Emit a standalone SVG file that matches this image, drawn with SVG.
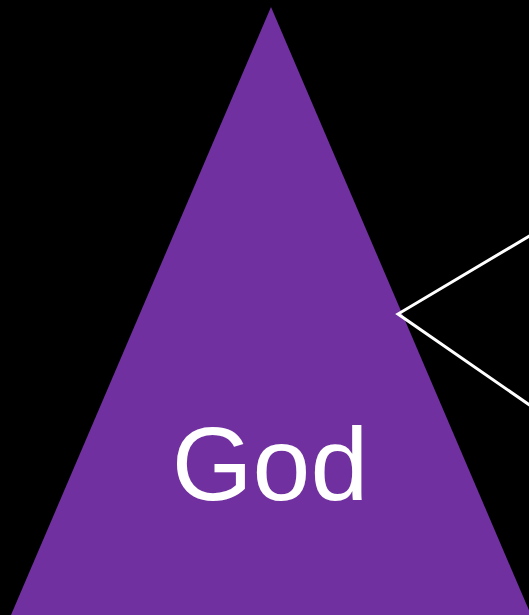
<svg xmlns="http://www.w3.org/2000/svg" width="529" height="615" viewBox="0 0 529 615">
<style>
.tri{fill:#7030A0}
.lbl{font-family:"Liberation Sans",Arial,sans-serif;font-size:104px;fill:#FFFFFF;text-anchor:middle}
.conn{fill:none;stroke:#FFFFFF;stroke-width:3}
</style>
<rect x="0" y="0" width="529" height="615" fill="#000000"/>
<g id="god">
<polygon class="tri" points="271,7 11,615 531,615"/>
<text class="lbl" x="270" y="500">God</text>
</g>
<g id="connectors">
<polyline class="conn" points="531,235 398,314 531,406"/>
</g>
</svg>
